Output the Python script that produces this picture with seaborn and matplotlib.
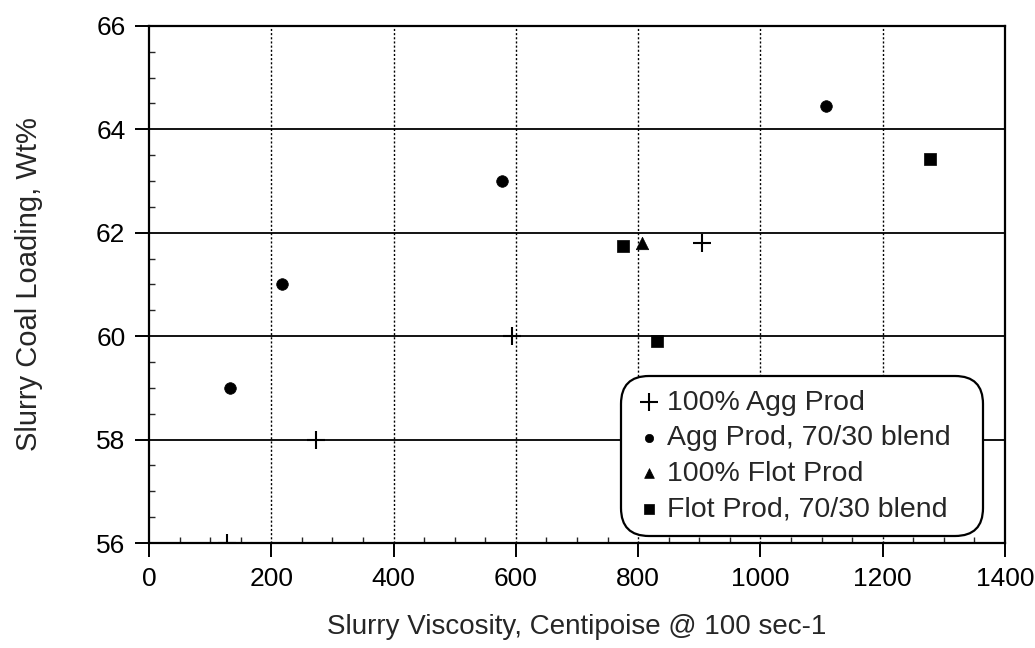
"""Slurry coal loading vs viscosity scatter, four product series."""

import matplotlib

matplotlib.use("Agg")
import matplotlib.pyplot as plt
import pandas as pd
import seaborn as sns
from matplotlib.ticker import MultipleLocator

# values
AGG_100_X = [128, 273, 593, 905]
AGG_100_Y = [56.0, 58.0, 60.0, 61.8]
AGG_BLEND_X = [133, 218, 577, 1108]
AGG_BLEND_Y = [59.0, 61.0, 63.0, 64.45]
FLOT_100_X = [807]
FLOT_100_Y = [61.8]
FLOT_BLEND_X = [776, 831, 1277]
FLOT_BLEND_Y = [61.75, 59.9, 63.42]

SERIES = [
    ("100% Agg Prod", AGG_100_X, AGG_100_Y, "+", 160),
    ("Agg Prod, 70/30 blend", AGG_BLEND_X, AGG_BLEND_Y, "o", 70),
    ("100% Flot Prod", FLOT_100_X, FLOT_100_Y, "^", 80),
    ("Flot Prod, 70/30 blend", FLOT_BLEND_X, FLOT_BLEND_Y, "s", 85),
]


def main() -> None:
    sns.set_theme(style="white")
    plt.rcParams["font.family"] = ["Liberation Sans", "DejaVu Sans"]

    fig = plt.figure(figsize=(10.35, 6.48), dpi=100)
    ax = fig.add_axes([0.144, 0.162, 0.827, 0.798])

    for label, xs, ys, marker, size in SERIES:
        df = pd.DataFrame({"x": xs, "y": ys})
        kw = dict(linewidth=1.5) if marker == "+" else dict(edgecolor="black", linewidth=0.5)
        sns.scatterplot(data=df, x="x", y="y", marker=marker, s=size, color="black",
                        label=label, ax=ax, zorder=5, **kw)

    ax.set_xlim(0, 1400)
    ax.set_ylim(56, 66)
    ax.xaxis.set_major_locator(MultipleLocator(200))
    ax.xaxis.set_minor_locator(MultipleLocator(50))
    ax.yaxis.set_major_locator(MultipleLocator(2))
    ax.yaxis.set_minor_locator(MultipleLocator(0.5))

    for y in [58, 60, 62, 64]:
        ax.axhline(y, color="black", linewidth=1.3, zorder=1)
    for x in [200, 400, 600, 800, 1000, 1200]:
        ax.axvline(x, color="black", linewidth=1.0, linestyle=(0, (1.5, 1.5)), zorder=1)

    ax.tick_params(which="major", direction="out", length=10, width=1.4, labelsize=19,
                   colors="black", pad=7, bottom=True, left=True)
    ax.tick_params(which="minor", direction="in", length=4, width=1.0, bottom=True, left=True)
    for s in ax.spines.values():
        s.set_color("black")
        s.set_linewidth(1.6)

    ax.set_xlabel("Slurry Viscosity, Centipoise @ 100 sec-1", fontsize=20, labelpad=17)
    ax.set_ylabel("Slurry Coal Loading, Wt%", fontsize=21, labelpad=38)

    leg = ax.legend(loc="lower left", bbox_to_anchor=(0.558, 0.024, 0.41, 0.3),
                    mode="expand", borderaxespad=0,
                    fontsize=20.5, frameon=True, fancybox=True, framealpha=1,
                    edgecolor="black", handletextpad=0.1, handlelength=1.0,
                    labelspacing=0.33, borderpad=0.3)
    sizes = [13, 6, 7, 7.5]
    for h, ms in zip(leg.legend_handles, sizes):
        h.set_sizes([ms ** 2])
    leg.get_frame().set_linewidth(1.6)
    leg.get_frame().set_boxstyle("round", pad=0.2, rounding_size=1.0)

    fig.savefig("out.png", dpi=100)
    plt.close(fig)


if __name__ == "__main__":
    main()
